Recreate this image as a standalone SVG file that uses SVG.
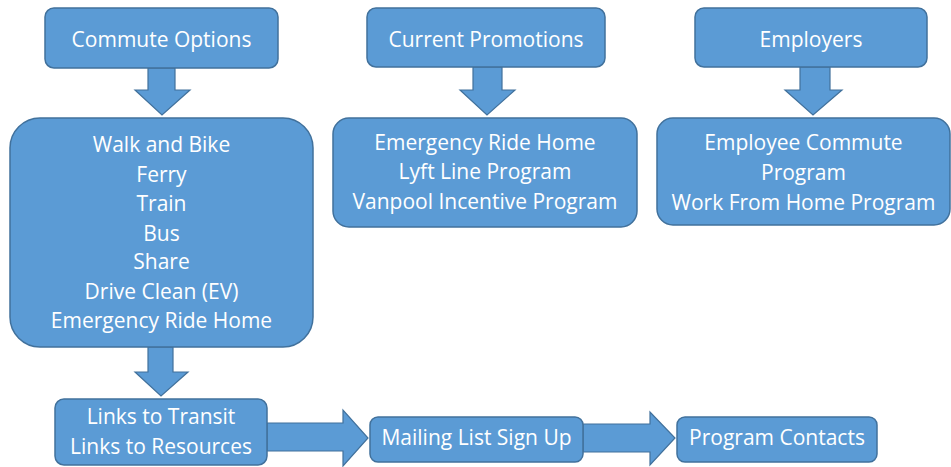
<svg xmlns="http://www.w3.org/2000/svg" width="951" height="467" viewBox="0 0 951 467">
<style>
.box{fill:#5B9BD5;stroke:#41719C;stroke-width:1.5}
.arr{fill:#5B9BD5;stroke:#41719C;stroke-width:1.2;stroke-linejoin:miter}
text{font-family:"Open Sans","Liberation Sans",sans-serif;font-size:21px;fill:#FFFFFF;text-anchor:middle}
</style>
<rect width="951" height="467" fill="#FFFFFF"/>
<g id="connectors">
<polygon class="arr" points="148,68 175,68 175,90 190,90 162,115 135,90 148,90"/>
<polygon class="arr" points="473,67 502,67 502,90 515,90 487,115 460,90 473,90"/>
<polygon class="arr" points="800,67 830,67 830,90 842,90 813,115 785,90 800,90"/>
<polygon class="arr" points="148,347 173,347 173,372 188,372 161,396 135,372 148,372"/>
<polygon class="arr" points="267,423 343,423 343,410 368,438 343,466 343,451 267,451"/>
<polygon class="arr" points="583,424 650,424 650,412 675,438 650,465 650,452 583,452"/>
</g>
<g id="commute-options"><rect class="box" x="45" y="8" width="233" height="60" rx="9"/><text x="161.5" y="47">Commute Options</text></g>
<g id="current-promotions"><rect class="box" x="367" y="8" width="238" height="59" rx="9"/><text x="486" y="47">Current Promotions</text></g>
<g id="employers"><rect class="box" x="695" y="8" width="232" height="59" rx="9"/><text x="811" y="47">Employers</text></g>
<g id="commute-list"><rect class="box" x="10" y="118" width="303" height="229" rx="30"/>
<text x="161.5" y="152">Walk and Bike</text>
<text x="161.5" y="182">Ferry</text>
<text x="161.5" y="211">Train</text>
<text x="161.5" y="241">Bus</text>
<text x="161.5" y="269">Share</text>
<text x="161.5" y="299">Drive Clean (EV)</text>
<text x="161.5" y="328">Emergency Ride Home</text>
</g>
<g id="promotions-list"><rect class="box" x="333" y="118" width="304" height="109" rx="16"/>
<text x="485" y="150">Emergency Ride Home</text>
<text x="485" y="179">Lyft Line Program</text>
<text x="485" y="209">Vanpool Incentive Program</text>
</g>
<g id="employers-list"><rect class="box" x="657" y="118" width="293" height="107" rx="16"/>
<text x="803.5" y="150">Employee Commute</text>
<text x="803.5" y="180">Program</text>
<text x="803.5" y="210">Work From Home Program</text>
</g>
<g id="links"><rect class="box" x="55" y="399" width="212" height="66" rx="9"/>
<text x="161" y="424">Links to Transit</text>
<text x="161" y="454">Links to Resources</text>
</g>
<g id="mailing-list"><rect class="box" x="370" y="417" width="213" height="45" rx="8"/><text x="476.5" y="445">Mailing List Sign Up</text></g>
<g id="program-contacts"><rect class="box" x="677" y="417" width="200" height="45" rx="8"/><text x="777" y="445">Program Contacts</text></g>
</svg>
